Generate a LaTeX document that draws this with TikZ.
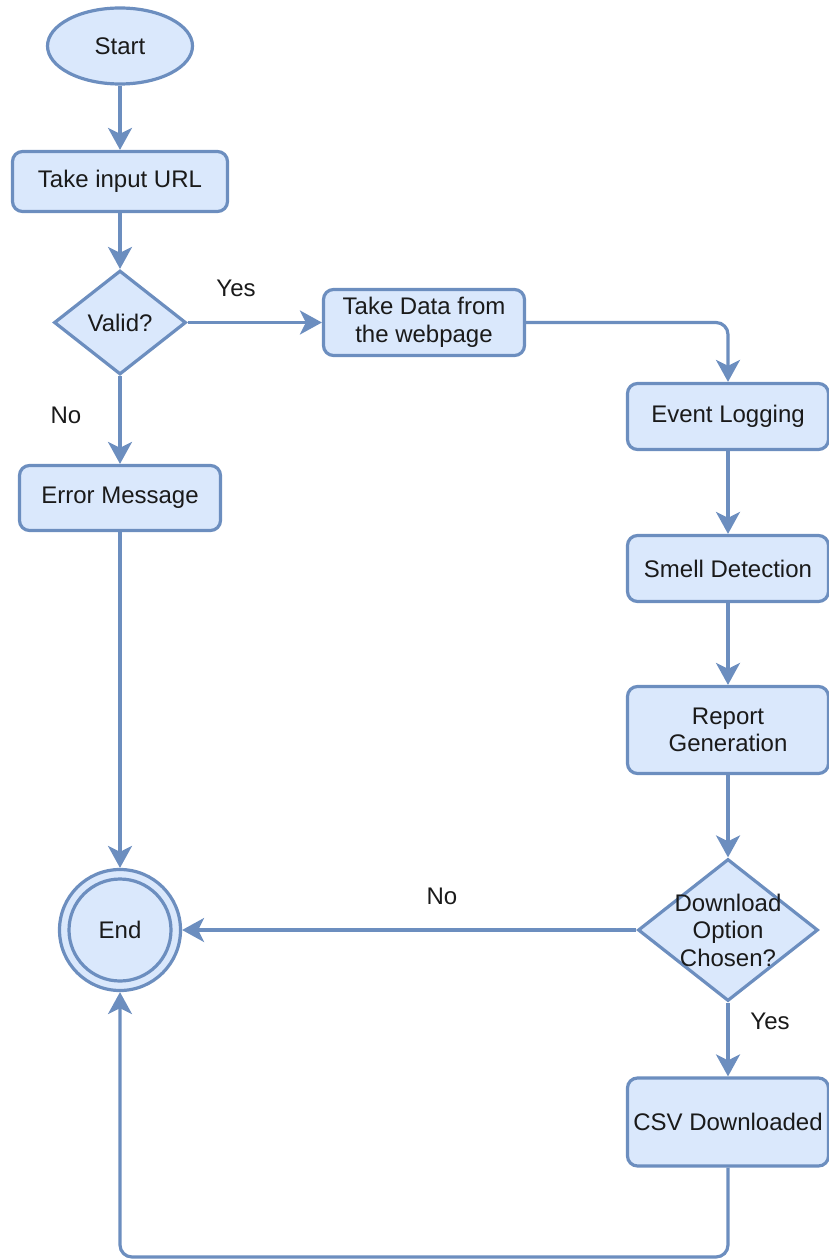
\documentclass[tikz,border=0pt]{standalone}
\usepackage{fontspec}
\setmainfont{Liberation Sans}
\usetikzlibrary{shapes.geometric,arrows.meta}
\definecolor{boxfill}{HTML}{DAE8FC}
\definecolor{boxline}{HTML}{6C8EBF}
\definecolor{ink}{HTML}{1A1A1A}

\begin{document}
\begin{tikzpicture}[x=1pt,y=-1pt,
  every node/.style={font=\fontsize{24}{27.5}\selectfont, text=ink},
  proc/.style={draw=boxline, fill=boxfill, line width=3.2pt, rounded corners=10pt,
               inner sep=0pt, align=center, minimum width=201pt},
  terminal/.style={draw=boxline, fill=boxfill, line width=3.2pt, ellipse, inner sep=0pt},
  decision/.style={draw=boxline, fill=boxfill, line width=3.2pt, diamond, inner sep=0pt},
  flow/.style={draw=boxline, line width=3.2pt, rounded corners=12pt,
               -{Stealth[length=22pt,width=24pt,inset=6pt]}},
  lbl/.style={inner sep=0pt}]

\useasboundingbox (0,0) rectangle (828,1260);

% left column
\node[terminal, minimum width=145pt, minimum height=76pt] (start) at (120,46) {Start};
\node[proc, minimum width=215pt, minimum height=60pt] (url) at (120,181.5) {Take input URL};
\node[decision, minimum width=132pt, minimum height=104pt] (valid) at (120,322.5) {};
\node at (valid) {Valid?};
\node[proc, minimum height=65pt] (err) at (120,498) {Error Message};
\node[circle, draw=boxline, fill=boxfill, line width=3.2pt, minimum size=121pt, inner sep=0pt] (end) at (120,930) {};
\node[circle, draw=boxline, line width=3.2pt, minimum size=102pt, inner sep=0pt] (endin) at (end) {End};

% middle
\node[proc, minimum height=66pt] (data) at (424,322.5) {Take Data from\\the webpage};

% right column
\node[proc, minimum height=66pt] (event) at (728,416.5) {Event Logging};
\node[proc, minimum height=66pt] (smell) at (728,568.5) {Smell Detection};
\node[proc, minimum height=87pt] (report) at (728,730) {Report\\Generation};
\node[decision, minimum width=180pt, minimum height=142pt] (dl) at (728,930) {};
\node[align=center] (dltext) at (dl) {Download\\Option\\Chosen?};
\node[proc, minimum height=88pt] (csv) at (728,1122) {CSV Downloaded};

% branch labels
\node[lbl] (yes1) at (236,288) {Yes};
\node[lbl] (no1) at (66,415) {No};
\node[lbl] (no2) at (442,896) {No};
\node[lbl] (yes2) at (770,1021) {Yes};

% return path corners
\coordinate (br) at (728,1257);
\coordinate (bl) at (120,1257);

% connectors
\draw[flow] (start) -- (url);
\draw[flow] (url) -- (valid);
\draw[flow] (valid) -- (data);
\draw[flow] (data.east) -| (event.north);
\draw[flow] (valid) -- (err);
\draw[flow] (err) -- (end);
\draw[flow] (event) -- (smell);
\draw[flow] (smell) -- (report);
\draw[flow] (report) -- (dl);
\draw[flow] (dl) -- (end);
\draw[flow] (dl) -- (csv);
\draw[flow] (csv.south) -- (br) -- (bl) -- (end.south);
\end{tikzpicture}
\end{document}
